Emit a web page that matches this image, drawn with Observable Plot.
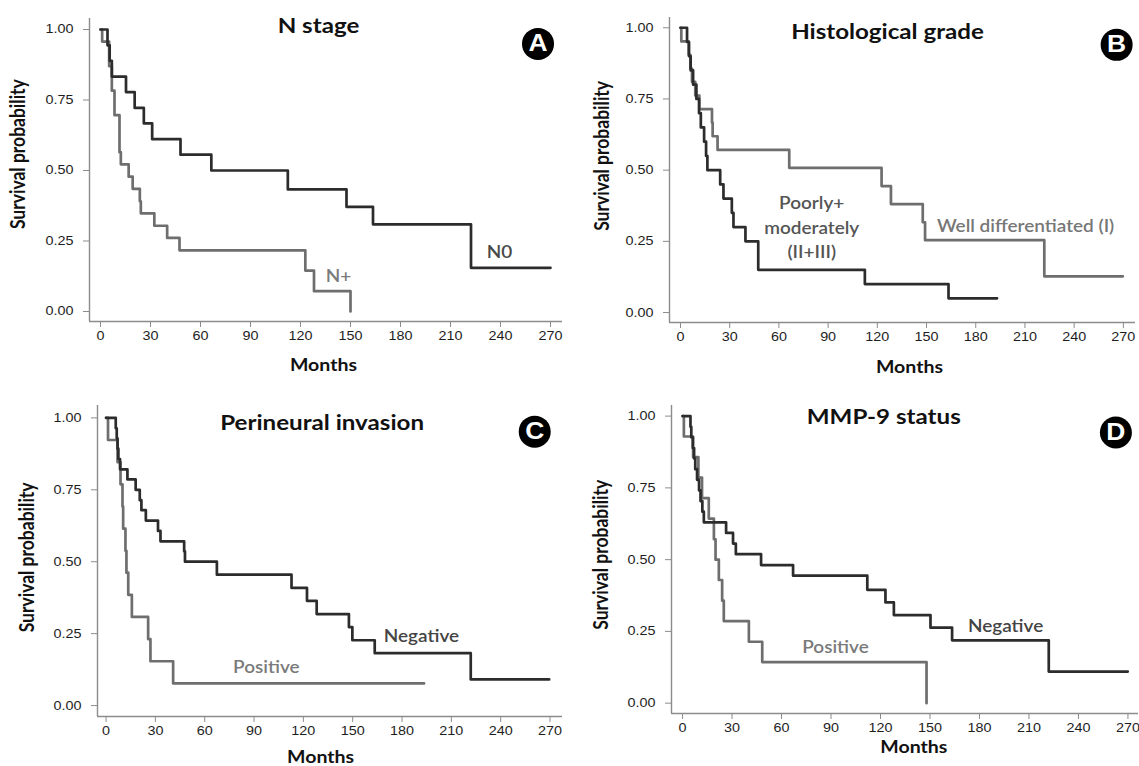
<!DOCTYPE html>
<html><head><meta charset="utf-8">
<script src="https://cdn.jsdelivr.net/npm/d3@7"></script>
<script src="https://cdn.jsdelivr.net/npm/@observablehq/plot@0.6"></script>
<style>
body{margin:0;background:#fff;}
#wrap{position:relative;width:1139px;height:766px;overflow:hidden;background:#fff;}
.panel{position:absolute;}
</style></head><body><div id="wrap"></div>
<script>
// ---------- shared ticks ----------
const monthTicks = [0, 30, 60, 90, 120, 150, 180, 210, 240, 270];
const survTicks = [0, 0.25, 0.5, 0.75, 1];

// ---------- Panel A: N stage ----------
const aN0Months = [0, 4.2, 5.5, 6.8, 15.3, 20.5, 26, 31, 48, 66.5, 112.4, 147.6, 163.5, 222.3, 270];
const aN0Surv   = [1, 0.944, 0.889, 0.833, 0.778, 0.722, 0.667, 0.611, 0.556, 0.5, 0.433, 0.371, 0.309, 0.155, 0.155];
const aNpMonths = [0, 1, 5.2, 6.8, 8.4, 11.4, 12.2, 16.9, 19.3, 23.6, 24.2, 32.3, 40, 47.4, 122.9, 128.1, 150];
const aNpSurv   = [1, 0.957, 0.870, 0.783, 0.696, 0.565, 0.522, 0.478, 0.435, 0.391, 0.348, 0.304, 0.261, 0.217, 0.145, 0.072, 0];

// ---------- Panel B: Histological grade ----------
const bPoorMonths = [0, 4, 5.2, 6.2, 7.7, 9.7, 11.3, 12.4, 14.4, 15.6, 16.4, 24.2, 26.2, 31.3, 32.3, 39.6, 47.4, 112.4, 163.4, 193];
const bPoorSurv   = [1, 0.95, 0.9, 0.85, 0.8, 0.75, 0.7, 0.65, 0.6, 0.55, 0.5, 0.45, 0.4, 0.35, 0.3, 0.25, 0.15, 0.1, 0.05, 0.05];
const bWellMonths = [0, 0.5, 5, 6, 7, 9, 11.5, 19.2, 19.6, 22.6, 66.3, 122.6, 128.3, 147.7, 149.1, 221.8, 269.7];
const bWellSurv   = [1, 0.952, 0.905, 0.857, 0.81, 0.762, 0.714, 0.667, 0.619, 0.571, 0.508, 0.444, 0.381, 0.317, 0.254, 0.127, 0.127];

// ---------- Panel C: Perineural invasion ----------
const cNegMonths = [0, 5.9, 6.5, 7, 7.5, 8.5, 13, 18, 20.5, 21.5, 24.2, 31.6, 33.1, 47.5, 48, 67.4, 112.8, 122.2, 128.1, 147.7, 149.8, 163.4, 221.8, 269.5];
const cNegSurv   = [1, 0.964, 0.929, 0.893, 0.857, 0.821, 0.786, 0.75, 0.714, 0.679, 0.643, 0.607, 0.571, 0.536, 0.5, 0.455, 0.409, 0.364, 0.318, 0.273, 0.227, 0.182, 0.091, 0.091];
const cPosMonths = [0, 1.2, 7, 8.8, 10, 10.4, 11.8, 12.4, 13.5, 15.7, 25.6, 27, 40.8, 193.4];
const cPosSurv   = [1, 0.923, 0.846, 0.769, 0.692, 0.615, 0.538, 0.462, 0.385, 0.308, 0.231, 0.154, 0.077, 0.077];

// ---------- Panel D: MMP-9 status ----------
const dNegMonths = [0, 4.8, 5.3, 6.2, 7, 7.7, 8.8, 10, 10.9, 12, 12.9, 26.4, 30.6, 32.3, 47.6, 67, 112, 123, 128.1, 150.3, 163.4, 222, 269.9];
const dNegSurv   = [1, 0.963, 0.926, 0.889, 0.852, 0.815, 0.778, 0.741, 0.704, 0.667, 0.63, 0.593, 0.556, 0.519, 0.481, 0.444, 0.395, 0.351, 0.307, 0.263, 0.219, 0.11, 0.11];
const dPosMonths = [0, 0.8, 6.4, 9.6, 11.8, 15.9, 19, 20, 22, 24, 25, 40.2, 48.3, 147.9];
const dPosSurv   = [1, 0.929, 0.857, 0.786, 0.714, 0.643, 0.571, 0.5, 0.429, 0.357, 0.286, 0.214, 0.143, 0];

// ---------- text ----------
const panelTitles = ["N stage", "Histological grade", "Perineural invasion", "MMP-9 status"];
const panelLetters = ["A", "B", "C", "D"];
const yAxisTitle = "Survival probability";
const xAxisTitle = "Months";

// ---------- styles ----------
const DARK = "#2c2c2c", GRAY = "#6e6e6e", AXIS = "#8c8c8c";
const STRETCH = 1.15;

const toPts = (m, s) => m.map((t, i) => ({t, s: s[i]}));

const panels = [
  {left: 0, top: 0, mL: 89, mR: 8, mT: 18, mB: 62, xd: [-6.6, 277.2], yd: [-0.0355, 1.039],
   dark: toPts(aN0Months, aN0Surv), gray: toPts(aNpMonths, aNpSurv),
   title: {x: 130.8, y: 1.012}, circle: {x: 262.5, y: 0.949},
   ytitle: {x: -49, y: 0.558}, xtitle: {x: 133.8, y: -0.191},
   labels: [{x: 239.4, y: 0.217, text: "N0", fill: "#4a4a4a"}, {x: 142.8, y: 0.131, text: "N+", fill: "#7c7c7c"}]},
  {left: 570, top: 0, mL: 99, mR: 5, mT: 17, mB: 61, xd: [-6.7, 277.4], yd: [-0.035, 1.036],
   dark: toPts(bPoorMonths, bPoorSurv), gray: toPts(bWellMonths, bWellSurv),
   title: {x: 126.2, y: 0.983}, circle: {x: 265.9, y: 0.94},
   ytitle: {x: -47.7, y: 0.55}, xtitle: {x: 139.6, y: -0.194},
   labels: [{x: 80, y: 0.305, text: "Poorly+\nmoderately\n(II+III)", fill: "#555555"},
            {x: 210.4, y: 0.31, text: "Well differentiated (I)", fill: "#777777"}]},
  {left: 0, top: 383, mL: 97, mR: 8, mT: 22, mB: 50, xd: [-5.2, 277.6], yd: [-0.038, 1.043],
   dark: toPts(cNegMonths, cNegSurv), gray: toPts(cPosMonths, cPosSurv),
   title: {x: 131.4, y: 0.982}, circle: {x: 260.7, y: 0.952},
   ytitle: {x: -47.5, y: 0.515}, xtitle: {x: 130.5, y: -0.18},
   labels: [{x: 191.8, y: 0.25, text: "Negative", fill: "#444444"}, {x: 97.5, y: 0.142, text: "Positive", fill: "#7a7a7a"}]},
  {left: 570, top: 383, mL: 101, mR: 2, mT: 22, mB: 53, xd: [-6.7, 276.4], yd: [-0.036, 1.037],
   dark: toPts(dNegMonths, dNegSurv), gray: toPts(dPosMonths, dPosSurv),
   title: {x: 122, y: 0.996}, circle: {x: 262.7, y: 0.943},
   ytitle: {x: -49.2, y: 0.517}, xtitle: {x: 140.2, y: -0.155},
   labels: [{x: 195.8, y: 0.277, text: "Negative", fill: "#444444"}, {x: 92.7, y: 0.204, text: "Positive", fill: "#7a7a7a"}]}
];

function stretchText(svg, s) {
  svg.querySelectorAll("text").forEach(t => {
    const tr = t.getAttribute("transform");
    if (tr && /rotate\(-90\)/.test(tr)) t.setAttribute("transform", tr + ` scale(1,${s})`);
    else if (tr) t.setAttribute("transform", tr + ` scale(${s},1)`);
    else {
      const x = +t.getAttribute("x") || 0, y = +t.getAttribute("y") || 0;
      t.setAttribute("transform", `translate(${x},${y}) scale(${s},1) translate(${-x},${-y})`);
    }
  });
}

const wrap = document.getElementById("wrap");
panels.forEach((p, i) => {
  const svg = Plot.plot({
    width: 570, height: 383,
    marginLeft: p.mL, marginRight: p.mR, marginTop: p.mT, marginBottom: p.mB,
    x: {domain: p.xd},
    y: {domain: p.yd},
    style: {fontFamily: "'Liberation Sans', Arial, sans-serif", fontSize: "12.5px", color: "#222", background: "white", overflow: "visible"},
    marks: [
      Plot.ruleX([p.xd[0]], {stroke: AXIS, strokeWidth: 1.4}),
      Plot.ruleY([p.yd[0]], {stroke: AXIS, strokeWidth: 1.4}),
      Plot.axisX({ticks: monthTicks, tickSize: 6, tickPadding: 4, tickFormat: d => String(d), label: null, stroke: AXIS, fill: "#1e1e1e", fontSize: 12.5}),
      Plot.axisY({ticks: survTicks, tickSize: 6, tickPadding: 10, tickFormat: d3.format(".2f"), label: null, stroke: AXIS, fill: "#1e1e1e", fontSize: 12.5}),
      Plot.line(p.gray, {x: "t", y: "s", curve: "step-after", stroke: GRAY, strokeWidth: 2.7}),
      Plot.line(p.dark, {x: "t", y: "s", curve: "step-after", stroke: DARK, strokeWidth: 2.7}),
      Plot.text([panelTitles[i]], {x: p.title.x, y: p.title.y, text: d => d, fontFamily: "Lato", fontWeight: "bold", fontSize: 21, fill: "#111", lineAnchor: "middle"}),
      Plot.text([yAxisTitle], {x: p.ytitle.x, y: p.ytitle.y, text: d => d, rotate: -90, fontFamily: "Lato", fontWeight: "bold", fontSize: 17.5, fill: "#111", lineAnchor: "middle"}),
      Plot.text([xAxisTitle], {x: p.xtitle.x, y: p.xtitle.y, text: d => d, fontFamily: "Lato", fontWeight: "bold", fontSize: 17, fill: "#111", lineAnchor: "middle"}),
      Plot.text(p.labels, {x: "x", y: "y", text: "text", fill: "fill", fontFamily: "Lato", fontWeight: 600, fontSize: 16.5, lineAnchor: "middle", lineHeight: 1.5}),
      Plot.dot([p.circle], {x: "x", y: "y", r: 16, fill: "#000", stroke: "none"}),
      Plot.text([panelLetters[i]], {x: p.circle.x, y: p.circle.y, text: d => d, fill: "#fff", fontFamily: "'Liberation Sans', Arial, sans-serif", fontWeight: "bold", fontSize: 23, lineAnchor: "middle"})
    ]
  });
  stretchText(svg, STRETCH);
  svg.classList.add("panel");
  svg.style.left = p.left + "px";
  svg.style.top = p.top + "px";
  svg.style.position = "absolute";
  wrap.appendChild(svg);
});
</script>
</body></html>
